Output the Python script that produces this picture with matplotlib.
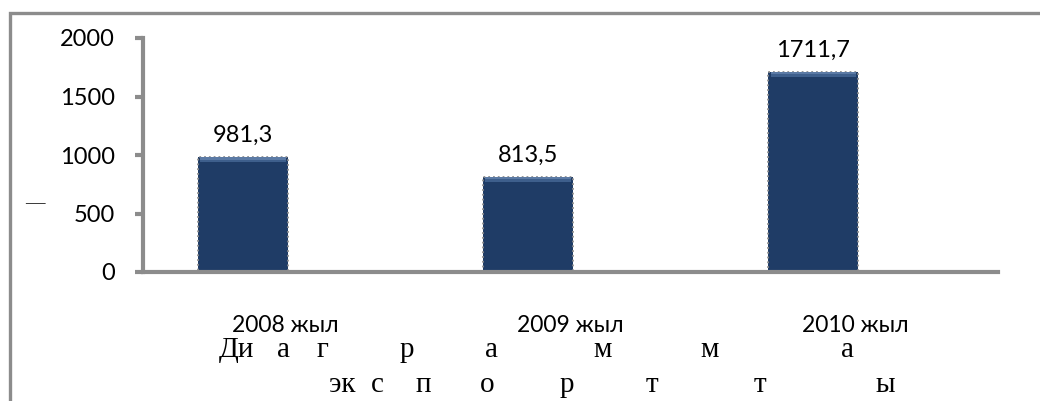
import numpy as np
import matplotlib.pyplot as plt
from matplotlib.patches import Rectangle

# Экспорт көлемі, жылдар бойынша
years = ['2008 жыл', '2009 жыл', '2010 жыл']
values = [981.3, 813.5, 1711.7]
value_labels = ['981,3', '813,5', '1711,7']
yticks = [0, 500, 1000, 1500, 2000]

# Астындағы жазу – әріптер жеке-жеке шашыраңқы орналасқан
caption_top = ['Ди', 'а', 'г', 'р', 'а', 'м', 'м', 'а']
caption_bottom = ['эк', 'с', 'п', 'о', 'р', 'т', 'т', 'ы']

BAR = '#1f3c66'
GREY = '#8c8c8c'
TICK_FONT = 'Lato'
SERIF = 'Liberation Serif'

W, H = 1040, 401
fig = plt.figure(figsize=(W / 100, H / 100), dpi=100)

# рамка (оң және төменгі жиектері суреттен шығып тұр)
fig.add_artist(Rectangle((10 / W, -0.1), 1.2, 1 - 12.5 / H + 0.1,
                         transform=fig.transFigure, fill=False,
                         edgecolor=GREY, linewidth=2.4))

ax = fig.add_axes([142.5 / W, 1 - 272 / H, (998 - 142.5) / W, (272 - 38) / H])

x = np.arange(len(years))
width = 0.315
xb = x - 0.148

ax.bar(xb, values, width=width, color=BAR, edgecolor='#8f8f8f',
       linewidth=1.3, linestyle=':', zorder=2)
# светлая полоска сверху столбца
hl = 45
ax.bar(xb, [hl] * len(values), bottom=[v - hl for v in values], width=width * 0.95,
       color='#3e5f8c', linewidth=0, zorder=3)
ax.bar(xb, [hl * 0.5] * len(values), bottom=[v - hl * 0.5 for v in values], width=width * 0.95,
       color='#5b7aa5', linewidth=0, zorder=3)

for xi, v, lab in zip(xb, values, value_labels):
    ax.annotate(lab, (xi, v), xytext=(0, 8), textcoords='offset points',
                ha='center', va='bottom', fontsize=17, family=TICK_FONT)

ax.set_xlim(-0.5, 2.5)
ax.set_ylim(0, 2000)
ax.set_yticks(yticks)
ax.set_yticklabels([str(t) for t in yticks], family=TICK_FONT, fontsize=17)
ax.set_xticks(x)
ax.set_xticklabels(years, family=TICK_FONT, fontsize=16.5)
ax.tick_params(axis='x', length=0, pad=31)
ax.tick_params(axis='y', length=6, width=3, color=GREY, pad=14)

for s in ['top', 'right']:
    ax.spines[s].set_visible(False)
for s in ['left', 'bottom']:
    ax.spines[s].set_color(GREY)
    ax.spines[s].set_linewidth(3)

# одинокая черточка слева
fig.text(35 / W, 1 - 204 / H, '—', family=SERIF, fontsize=14,
         ha='center', va='center')

top_x = [236, 283, 322, 407, 492, 603, 710, 847]
bottom_x = [342, 377, 423, 487, 567, 652, 760, 885]
for ch, px in zip(caption_top, top_x):
    fig.text(px / W, 1 - 350 / H, ch, family=SERIF, fontsize=21,
             ha='center', va='center')
for ch, px in zip(caption_bottom, bottom_x):
    fig.text(px / W, 1 - 385 / H, ch, family=SERIF, fontsize=21,
             ha='center', va='center')

fig.savefig('out.png', dpi=100)
